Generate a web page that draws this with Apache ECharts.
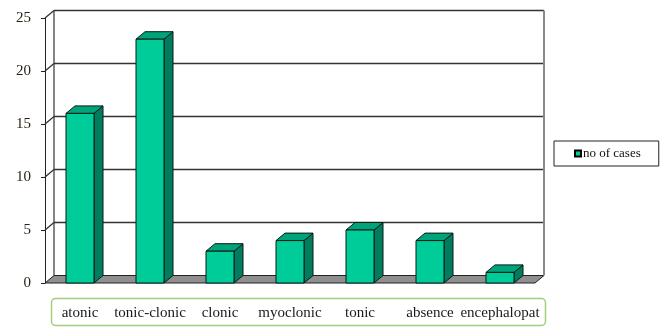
<!DOCTYPE html>
<html>
<head>
<meta charset="utf-8">
<script src="https://cdn.jsdelivr.net/npm/echarts@6/dist/echarts.min.js"></script>
<style>
  html, body { margin: 0; padding: 0; background: #fff; }
  #chart { width: 666px; height: 327px; }
</style>
</head>
<body>
<div id="chart"></div>
<script>
// Seizure types and number of cases
var categories = ['atonic', 'tonic-clonic', 'clonic', 'myoclonic', 'tonic', 'absence', 'encephalopat'];
var cases = [16, 23, 3, 4, 5, 4, 1];
var yTicks = [0, 5, 10, 15, 20, 25];
var seriesName = 'no of cases';

// depth offset of the pseudo-3D box
var DX = 9, DY = -7.5;
var SERIF = '"Liberation Serif", "DejaVu Serif", serif';

var chart = echarts.init(document.getElementById('chart'), null, { renderer: 'canvas' });

function renderWalls(params, api) {
  var cs = params.coordSys;
  var gx = cs.x, gw = cs.width;
  var base = api.coord([0, 0])[1];
  var top = api.coord([0, yTicks[yTicks.length - 1]])[1];
  var children = [];
  var lineStyle = { stroke: '#333', lineWidth: 1.3 };
  // floor
  children.push({
    type: 'polygon',
    shape: { points: [[gx, base], [gx + gw, base], [gx + gw + DX, base + DY], [gx + DX, base + DY]] },
    style: { fill: '#8f8f8f', stroke: '#222', lineWidth: 1 }
  });
  // gridlines on side and back walls
  yTicks.forEach(function (v) {
    if (v === 0) return;
    var y = api.coord([0, v])[1];
    children.push({ type: 'line', shape: { x1: gx, y1: y, x2: gx + DX, y2: y + DY }, style: lineStyle });
    children.push({ type: 'line', shape: { x1: gx + DX, y1: y + DY, x2: gx + gw + DX, y2: y + DY }, style: lineStyle });
  });
  // back wall left edge
  children.push({ type: 'line', shape: { x1: gx + DX, y1: top + DY, x2: gx + DX, y2: base + DY }, style: { stroke: '#333', lineWidth: 1.2 } });
  // back wall right edge
  children.push({ type: 'line', shape: { x1: gx + gw + DX, y1: top + DY, x2: gx + gw + DX, y2: base + DY }, style: { stroke: '#8a8a8a', lineWidth: 2 } });
  return { type: 'group', children: children };
}

function renderBar(params, api) {
  var idx = api.value(0);
  var val = api.value(1);
  var topPt = api.coord([idx, val]);
  var basePt = api.coord([idx, 0]);
  var bw = api.size([1, 0])[0] * 0.4;
  var x0 = topPt[0] - bw / 2, x1 = topPt[0] + bw / 2;
  var yt = topPt[1], yb = basePt[1];
  var stroke = { stroke: '#0a1a14', lineWidth: 1 };
  return {
    type: 'group',
    children: [
      {
        type: 'polygon',
        shape: { points: [[x1, yt], [x1 + DX, yt + DY], [x1 + DX, yb + DY], [x1, yb]] },
        style: Object.assign({ fill: '#007d5e' }, stroke)
      },
      {
        type: 'polygon',
        shape: { points: [[x0, yt], [x1, yt], [x1 + DX, yt + DY], [x0 + DX, yt + DY]] },
        style: Object.assign({ fill: '#00a47a' }, stroke)
      },
      {
        type: 'rect',
        shape: { x: x0, y: yt, width: bw, height: yb - yt },
        style: Object.assign({ fill: '#00cc99' }, stroke)
      }
    ]
  };
}

var barData = cases.map(function (v, i) { return [i, v]; });

chart.setOption({
  animation: false,
  backgroundColor: '#ffffff',
  grid: { left: 45, top: 18, width: 490, height: 265 },
  legend: {
    data: [seriesName],
    left: 554,
    top: 141,
    orient: 'vertical',
    icon: 'rect',
    itemWidth: 6,
    itemHeight: 6,
    itemGap: 0,
    padding: [6, 18, 6, 20],
    borderColor: '#222',
    borderWidth: 1,
    textStyle: { fontFamily: SERIF, fontSize: 13, color: '#111', padding: [0, 0, 0, -3] }
  },
  graphic: [{
    type: 'rect',
    left: 49,
    top: 296,
    shape: { width: 494, height: 27, r: 4 },
    style: { fill: 'none', stroke: '#9fcf7a', lineWidth: 1.5 },
    silent: true
  }],
  xAxis: {
    type: 'category',
    data: categories,
    axisLine: { show: false },
    axisTick: { show: false },
    splitLine: { show: false },
    axisLabel: { fontFamily: SERIF, fontSize: 15, color: '#1a1a1a', margin: 23, interval: 0 }
  },
  yAxis: {
    type: 'value',
    min: 0,
    max: 25,
    interval: 5,
    axisLine: { show: true, lineStyle: { color: '#222', width: 1 } },
    axisTick: { show: true, length: 4, lineStyle: { color: '#222' } },
    splitLine: { show: false },
    axisLabel: { fontFamily: SERIF, fontSize: 15, color: '#2a2218', margin: 14 }
  },
  series: [
    {
      type: 'custom',
      renderItem: renderWalls,
      data: [[0, 0]],
      z: 1,
      silent: true
    },
    {
      name: seriesName,
      type: 'custom',
      renderItem: renderBar,
      data: barData,
      encode: { x: 0, y: 1 },
      itemStyle: { color: '#00cc99', borderColor: '#000', borderWidth: 1 },
      z: 2
    }
  ]
});
</script>
</body>
</html>
